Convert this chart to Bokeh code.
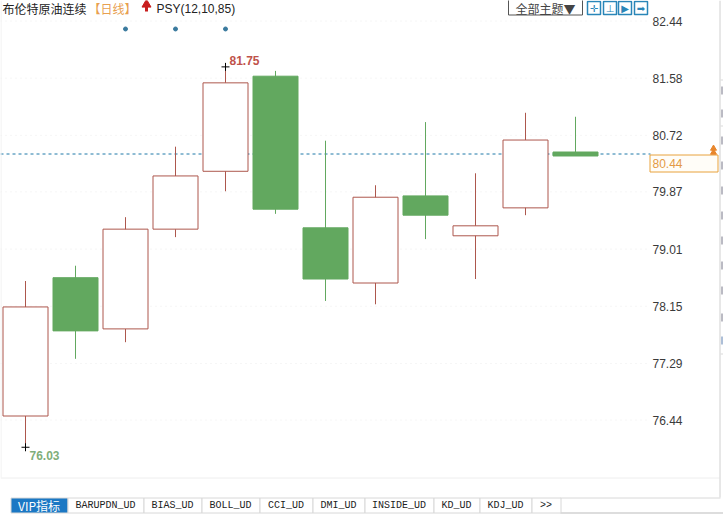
from bokeh.plotting import figure
from bokeh.models import FixedTicker, LinearAxis, Range1d
from bokeh.core.properties import value
from bokeh.embed import file_html
from bokeh.resources import INLINE

# ---- data ----
opens = [76.50, 78.58, 77.81, 79.31, 80.18, 81.61, 79.33, 78.50, 79.81, 79.21, 79.63, 80.47]
closes = [78.14, 77.78, 79.31, 80.11, 81.51, 79.61, 78.56, 79.79, 79.52, 79.36, 80.65, 80.41]
highs = [78.53, 78.76, 79.49, 80.55, 81.75, 81.69, 80.64, 79.97, 80.92, 80.15, 81.06, 81.00]
lows = [76.03, 77.36, 77.61, 79.19, 79.88, 79.54, 78.23, 78.18, 79.16, 78.56, 79.52, 80.41]
signal_index = [2, 3, 4]
signal_level = 82.32
last_price = 80.44
tick_values = [82.44, 81.58, 80.72, 79.87, 79.01, 78.15, 77.29, 76.44]
tab_labels = ["VIP指标", "BARUPDN_UD", "BIAS_UD", "BOLL_UD", "CCI_UD", "DMI_UD",
              "INSIDE_UD", "KD_UD", "KDJ_UD", ">>"]
tab_edges = [10, 67, 143, 201, 259, 312, 364, 433, 479, 531, 560]

# ---- geometry ----
W, H = 723, 514
PLOT_W = 650
PX_PER_UNIT = 66.5
Y_TOP = 82.44 + 20.5 / PX_PER_UNIT
Y_BOT = Y_TOP - H / PX_PER_UNIT
X_LEFT = -0.5


def X(px):
    return X_LEFT + px / 50.0


def Y(py):
    return Y_TOP - py / PX_PER_UNIT


UP_LINE = "#ad574d"
DOWN_FILL = "#62a85f"
FONT = "Liberation Sans"
CJK = "Noto Sans CJK SC"

p = figure(width=W, height=H, output_backend="svg", toolbar_location=None,
           x_range=Range1d(X_LEFT, X_LEFT + W / 50.0), y_range=Range1d(Y_BOT, Y_TOP),
           x_axis_type=None, y_axis_type=None,
           min_border_left=0, min_border_right=0, min_border_top=0, min_border_bottom=0)
p.outline_line_color = None
p.background_fill_color = "white"

axis = LinearAxis(ticker=FixedTicker(ticks=tick_values), fixed_location=X(PLOT_W))
axis.major_label_overrides = {v: f"{v:.2f}" for v in tick_values}
axis.major_tick_line_color = None
axis.minor_tick_line_color = None
axis.major_tick_in = 0
axis.major_tick_out = 0
axis.axis_line_color = None
axis.major_label_text_font = FONT
axis.major_label_text_font_size = "12px"
axis.major_label_text_color = "#3a3a3a"
axis.major_label_standoff = 2
p.add_layout(axis, "right")

# ---- gridlines, price line ----
n_t = len(tick_values)
p.segment([X(0)] * n_t, tick_values, [X(PLOT_W)] * n_t, tick_values, line_color="#ececec",
          line_dash="1 4", line_width=1)
p.segment([X(0)], [last_price], [X(PLOT_W)], [last_price], line_color="#1f78a8", line_dash="3 3", line_width=1)

# ---- candles ----
idx = list(range(len(opens)))
up = [i for i in idx if closes[i] >= opens[i]]
dn = [i for i in idx if closes[i] < opens[i]]
p.segment(up, [highs[i] for i in up], up, [lows[i] for i in up], line_color=UP_LINE, line_width=1)
p.segment(dn, [highs[i] for i in dn], dn, [lows[i] for i in dn], line_color=DOWN_FILL, line_width=1)
p.vbar(x=up, width=0.9, bottom=[opens[i] for i in up], top=[closes[i] for i in up],
       fill_color="white", line_color=UP_LINE, line_width=1)
p.vbar(x=dn, width=0.9, bottom=[closes[i] for i in dn], top=[opens[i] for i in dn],
       fill_color=DOWN_FILL, line_color=DOWN_FILL, line_width=1)

# ---- extremes ----
i_hi = highs.index(max(highs))
i_lo = lows.index(min(lows))
p.scatter([i_hi, i_lo], [highs[i_hi], lows[i_lo]], marker="cross", size=8, line_color="black", line_width=1)
p.text([i_hi], [highs[i_hi]], text=[f"{highs[i_hi]:.2f}"], x_offset=4, y_offset=-2,
       text_font=value(FONT), text_font_size="12px", text_font_style="bold",
       text_color="#c0524a", text_baseline="bottom", text_align="left")
p.text([i_lo], [lows[i_lo]], text=[f"{lows[i_lo]:.2f}"], x_offset=4, y_offset=4,
       text_font=value(FONT), text_font_size="12px", text_font_style="bold",
       text_color="#7fae7a", text_baseline="top", text_align="left")

# ---- signal dots ----
p.scatter(signal_index, [signal_level] * len(signal_index), marker="circle", size=4,
          fill_color="#3a7a9e", line_color="#3a7a9e")

# ---- header ----
p.text([X(2)], [Y(8)], text=["布伦特原油连续"], text_font=value(CJK), text_font_size="12px",
       text_color="#222222", text_baseline="middle")
p.text([X(88)], [Y(8)], text=["【日线】"], text_font=value(CJK), text_font_size="12px",
       text_color="#e8a050", text_baseline="middle")
p.text([X(156)], [Y(8)], text=["PSY(12,10,85)"], text_font=value(FONT), text_font_size="12px",
       text_color="#222222", text_baseline="middle")
p.scatter([X(146)], [Y(4)], marker="triangle", size=9, fill_color="#c81e1e", line_color="#c81e1e")
p.segment([X(146)], [Y(5)], [X(146)], [Y(11)], line_color="#c81e1e", line_width=3)

# ---- theme button and icons ----
p.quad(left=[X(508)], right=[X(582)], top=[Y(-1)], bottom=[Y(14.5)], fill_color="white",
       line_color="#555555", line_width=1)
p.text([X(515)], [Y(8)], text=["全部主题▼"], text_font=value(CJK), text_font_size="12px",
       text_color="#444444", text_baseline="middle")
icon_x = [587, 603, 618, 634]
p.quad(left=[X(v) for v in icon_x], right=[X(v + 13) for v in icon_x],
       top=[Y(1)] * 4, bottom=[Y(14)] * 4, fill_color="white", line_color="#2a86b8", line_width=1.5)
p.text([X(v + 6.5) for v in icon_x], [Y(7.5)] * 4, text=["✛", "⊥", "▶", "➡"],
       text_font=value("DejaVu Sans"), text_font_size="10px", text_color="#2a86b8",
       text_align="center", text_baseline="middle")

# ---- current price box ----
p.quad(left=[X(649.5)], right=[X(717.5)], top=[Y(154.5)], bottom=[Y(171.5)], fill_color="#fffdf8",
       line_color="#e8a23c", line_width=1)
p.text([X(652)], [Y(163)], text=[f"{last_price:.2f}"], text_font=value(FONT), text_font_size="12px",
       text_color="#e39a45", text_baseline="middle")
p.scatter([X(713), X(713)], [Y(148), Y(152)], marker="triangle", size=6, fill_color="#e8862c",
          line_color="#e8862c")

# ---- page chrome ----
p.segment([X(0.5)], [Y(0)], [X(0.5)], [Y(477)], line_color="#f0f0f0", line_width=1)
p.segment([X(0)], [Y(477.5)], [X(719)], [Y(477.5)], line_color="#eeeeee")
p.segment([X(719.5)], [Y(0)], [X(719.5)], [Y(497)], line_color="#d0d0d0")
edge_rows = [Y(79.5), Y(125.5), Y(353.5)]
p.segment([X(720)] * 3, edge_rows, [X(723)] * 3, edge_rows, line_color="#d9d9d9")
stub_rows = [90, 113, 140, 165, 190, 215, 240, 265, 290, 317, 340]
stub_colors = ["#777788"] * 10 + ["#5a7fb0"]
p.segment([X(721.5)] * 11, [Y(v - 4) for v in stub_rows], [X(721.5)] * 11, [Y(v + 4) for v in stub_rows],
          line_color=stub_colors, line_width=1)
p.segment([X(tab_edges[-1])], [Y(497.5)], [X(720)], [Y(497.5)], line_color="#d8d8d8")
p.segment([X(tab_edges[-1])], [Y(512.5)], [X(723)], [Y(512.5)], line_color="#dddddd", line_width=2)

# ---- tab bar ----
n = len(tab_labels)
p.quad(left=[X(v + 0.5) for v in tab_edges[:-1]], right=[X(v + 0.5) for v in tab_edges[1:]],
       top=[Y(497.5)] * n, bottom=[Y(512.5)] * n,
       fill_color=["#1b78c4"] + ["white"] * (n - 1), line_color="#d8d8d8", line_width=1)
mid = [(tab_edges[i] + tab_edges[i + 1]) / 2 for i in range(n)]
p.text([X(v) for v in mid[1:]], [Y(505)] * (n - 1), text=tab_labels[1:], text_font=value("Liberation Mono"),
       text_font_size="10px", text_color="#222222", text_align="center", text_baseline="middle")
p.text([X(mid[0])], [Y(505)], text=tab_labels[:1], text_font=value(CJK), text_font_size="12px",
       text_color="white", text_align="center", text_baseline="middle")

open("out.html", "w").write(file_html(p, INLINE))
